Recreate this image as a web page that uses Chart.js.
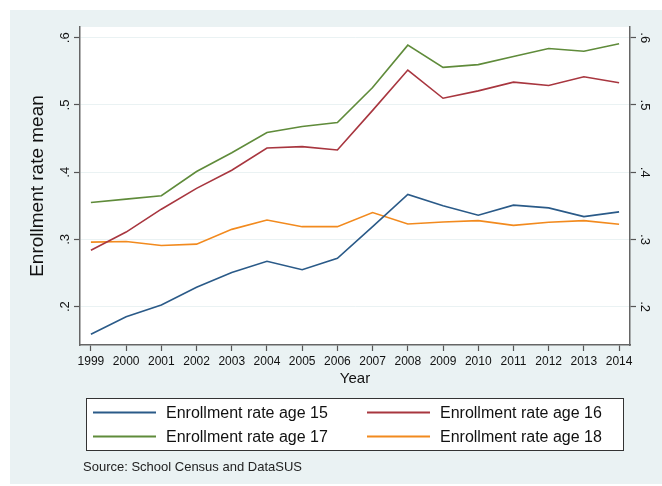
<!DOCTYPE html>
<html lang="en">
<head>
    <meta charset="UTF-8">
    <title>Enrollment rate mean</title>
    <style>
        html, body {
            margin: 0;
            padding: 0;
            background: #ffffff;
        }
        canvas {
            display: block;
        }
    </style>
    <script src="https://cdn.jsdelivr.net/npm/chart.js"></script>
</head>
<body>

<canvas id="enrollChart" width="662" height="486"></canvas>

<script>
    // data
    const years = [1999, 2000, 2001, 2002, 2003, 2004, 2005, 2006, 2007, 2008, 2009, 2010, 2011, 2012, 2013, 2014];
    const age15 = [0.159, 0.185, 0.2025, 0.229, 0.251, 0.2675, 0.255, 0.272, 0.319, 0.367, 0.350, 0.336, 0.351, 0.347, 0.334, 0.341];
    const age16 = [0.284, 0.311, 0.345, 0.376, 0.403, 0.436, 0.438, 0.433, 0.492, 0.552, 0.510, 0.521, 0.534, 0.529, 0.542, 0.533];
    const age17 = [0.355, 0.360, 0.365, 0.401, 0.429, 0.459, 0.468, 0.474, 0.526, 0.589, 0.556, 0.560, 0.572, 0.584, 0.580, 0.591];
    const age18 = [0.296, 0.297, 0.291, 0.293, 0.315, 0.329, 0.319, 0.319, 0.340, 0.323, 0.326, 0.328, 0.321, 0.3255, 0.328, 0.3225];
    const seriesLabels = ['Enrollment rate age 15', 'Enrollment rate age 16', 'Enrollment rate age 17', 'Enrollment rate age 18'];
    const yTicks = [0.2, 0.3, 0.4, 0.5, 0.6];

    const colors = ['#2a5a88', '#a8363f', '#5f8b3a', '#f28a1e'];
    const FONT = '"Liberation Sans", Arial, Helvetica, sans-serif';
    const BG = '#eaf2f3';

    function toPoints(values) {
        return years.map((yr, i) => ({ x: yr, y: values[i] }));
    }

    // Stata-style background, plot region, legend box and note
    const stataFrame = {
        id: 'stataFrame',
        beforeDraw(chart) {
            const ctx = chart.ctx;
            const a = chart.chartArea;
            ctx.save();
            ctx.fillStyle = '#ffffff';
            ctx.fillRect(0, 0, chart.width, chart.height);
            ctx.fillStyle = BG;
            ctx.fillRect(10, 10, chart.width - 10, 474);
            ctx.fillStyle = '#ffffff';
            ctx.fillRect(a.left, a.top, a.right - a.left, a.bottom - a.top);
            ctx.restore();
        },
        afterDraw(chart) {
            const ctx = chart.ctx;
            ctx.save();
            // legend box
            ctx.fillStyle = '#ffffff';
            ctx.fillRect(86, 398, 538, 53);
            ctx.strokeStyle = '#333333';
            ctx.lineWidth = 1;
            ctx.strokeRect(86.5, 398.5, 537, 52);

            ctx.font = '16px ' + FONT;
            ctx.textBaseline = 'middle';
            ctx.textAlign = 'left';
            chart.data.datasets.forEach((ds, i) => {
                const col = i % 2;
                const row = Math.floor(i / 2);
                const lx = col === 0 ? 93 : 367;
                const ly = row === 0 ? 412.5 : 436.5;
                ctx.strokeStyle = ds.borderColor;
                ctx.lineWidth = 2;
                ctx.beginPath();
                ctx.moveTo(lx, ly);
                ctx.lineTo(lx + 63, ly);
                ctx.stroke();
                ctx.fillStyle = '#111111';
                ctx.fillText(ds.label, lx + 73, ly + 1);
            });

            // note
            ctx.font = '13px ' + FONT;
            ctx.fillStyle = '#222222';
            ctx.fillText('Source: School Census and DataSUS', 83, 467.5);
            ctx.restore();
        }
    };

    const tickFmt = v => {
        const s = (Math.round(v * 10) / 10).toString();
        return s.replace(/^0/, '');
    };

    const ctx = document.getElementById('enrollChart').getContext('2d');
    const enrollChart = new Chart(ctx, {
        type: 'line',
        data: {
            datasets: [age15, age16, age17, age18].map((vals, i) => ({
                label: seriesLabels[i],
                data: toPoints(vals),
                borderColor: colors[i],
                backgroundColor: colors[i],
                borderWidth: 1.6,
                pointRadius: 0,
                tension: 0,
                fill: false
            }))
        },
        options: {
            responsive: false,
            animation: false,
            devicePixelRatio: 1,
            layout: { padding: { top: 27, left: 0, right: 0, bottom: 96 } },
            plugins: {
                legend: { display: false },
                tooltip: { enabled: false }
            },
            scales: {
                x: {
                    type: 'linear',
                    min: 1998.69,
                    max: 2014.31,
                    afterBuildTicks: s => { s.ticks = years.map(v => ({ value: v })); },
                    afterFit: s => { s.height = 45; },
                    grid: { drawOnChartArea: false, drawTicks: true, tickLength: 6, tickColor: '#555555', tickWidth: 1.2 },
                    border: { display: true, color: '#666666', width: 1.5 },
                    ticks: {
                        callback: v => String(v),
                        font: { family: FONT, size: 12 },
                        color: '#111111',
                        padding: 3,
                        maxRotation: 0,
                        autoSkip: false
                    },
                    title: {
                        display: true,
                        text: 'Year',
                        font: { family: FONT, size: 15 },
                        color: '#111111',
                        padding: { top: 0, bottom: 2 }
                    }
                },
                y: {
                    position: 'left',
                    min: 0.143,
                    max: 0.616,
                    afterBuildTicks: s => { s.ticks = yTicks.map(v => ({ value: v })); },
                    afterFit: s => { s.width = 80; },
                    grid: { color: BG, lineWidth: 1, drawTicks: true, tickLength: 6, tickColor: '#555555', tickWidth: 1.2 },
                    border: { display: true, color: '#666666', width: 1.5 },
                    ticks: {
                        callback: tickFmt,
                        font: { family: FONT, size: 13 },
                        color: '#111111',
                        minRotation: 90,
                        crossAlign: 'center',
                        padding: 3.5
                    },
                    title: {
                        display: true,
                        text: 'Enrollment rate mean',
                        font: { family: FONT, size: 19 },
                        color: '#111111',
                        padding: { top: 26.6, bottom: 0 }
                    }
                },
                y2: {
                    position: 'right',
                    min: 0.143,
                    max: 0.616,
                    afterBuildTicks: s => { s.ticks = yTicks.map(v => ({ value: v })); },
                    afterFit: s => { s.width = 32; },
                    grid: { drawOnChartArea: false, drawTicks: true, tickLength: 6, tickColor: '#555555', tickWidth: 1.2 },
                    border: { display: true, color: '#666666', width: 1.5 },
                    ticks: {
                        callback: tickFmt,
                        font: { family: FONT, size: 13 },
                        color: '#111111',
                        minRotation: -90,
                        crossAlign: 'center',
                        padding: 3.5
                    }
                }
            }
        },
        plugins: [stataFrame]
    });
</script>

</body>
</html>
